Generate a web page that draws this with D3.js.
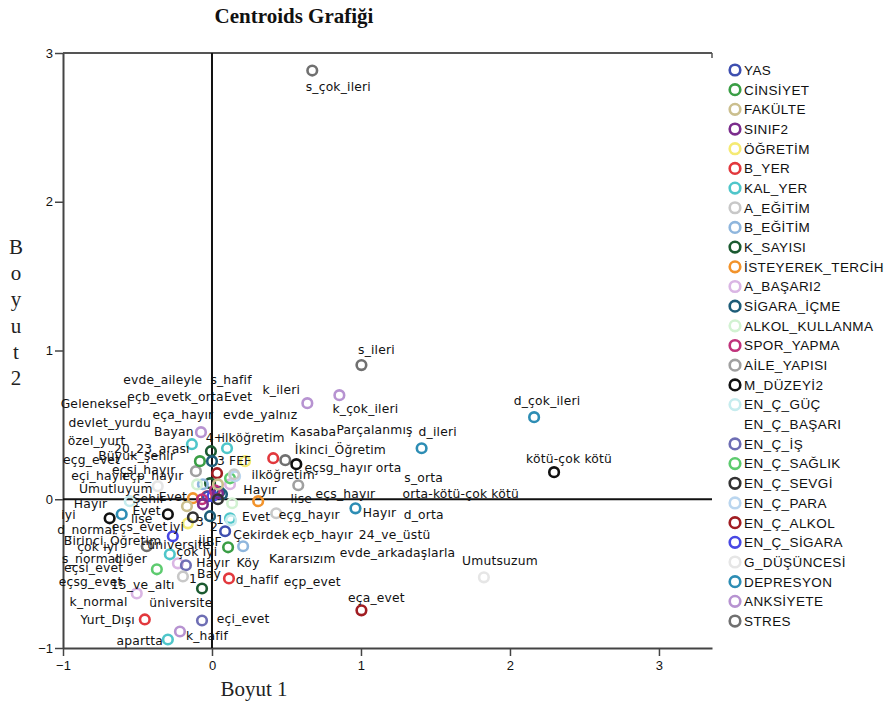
<!DOCTYPE html>
<html><head><meta charset="utf-8">
<script src="https://cdn.jsdelivr.net/npm/d3@7"></script>
<style>
body{margin:0;background:#fff;}
svg{display:block;}
</style></head>
<body><svg id="chart" width="891" height="704"></svg>
<script>
// ---- data ----
const chartTitle = "Centroids Grafiği";
const xTitle = "Boyut 1";
const yTitle = "Boyut 2";
const xTicks = [-1, 0, 1, 2, 3];
const yTicks = [-1, 0, 1, 2, 3];
const variables = ["YAS","CİNSİYET","FAKÜLTE","SINIF2","ÖĞRETİM","B_YER","KAL_YER","A_EĞİTİM","B_EĞİTİM","K_SAYISI","İSTEYEREK_TERCİH","A_BAŞARI2","SİGARA_İÇME","ALKOL_KULLANMA","SPOR_YAPMA","AİLE_YAPISI","M_DÜZEYİ2","EN_Ç_GÜÇ","EN_Ç_BAŞARI","EN_Ç_İŞ","EN_Ç_SAĞLIK","EN_Ç_SEVGİ","EN_Ç_PARA","EN_Ç_ALKOL","EN_Ç_SİGARA","G_DÜŞÜNCESİ","DEPRESYON","ANKSİYETE","STRES"];
// centroid coordinates [variable, Boyut1, Boyut2]
const centroids = [
 ["STRES",0.673,2.882],["STRES",1.003,0.902],["STRES",-0.438,-0.316],["STRES",0.492,0.263],
 ["AİLE_YAPISI",-0.108,0.189],["AİLE_YAPISI",0.579,0.094],
 ["DEPRESYON",2.162,0.552],["DEPRESYON",1.407,0.343],["DEPRESYON",0.963,-0.061],["DEPRESYON",-0.606,-0.101],
 ["M_DÜZEYİ2",2.296,0.182],["M_DÜZEYİ2",0.566,0.236],["M_DÜZEYİ2",-0.687,-0.128],["M_DÜZEYİ2",-0.296,-0.101],
 ["G_DÜŞÜNCESİ",1.825,-0.525],["G_DÜŞÜNCESİ",-0.364,0.088],
 ["EN_Ç_ALKOL",1.003,-0.747],["EN_Ç_ALKOL",0.034,0.175],
 ["B_YER",0.411,0.276],["B_YER",0.114,-0.532],["B_YER",-0.451,-0.808],["B_YER",-0.034,0.02],
 ["ANKSİYETE",0.64,0.646],["ANKSİYETE",0.855,0.70],["ANKSİYETE",-0.074,0.451],["ANKSİYETE",-0.215,-0.889],
 ["A_BAŞARI2",-0.505,-0.633],["A_BAŞARI2",-0.229,-0.431],["A_BAŞARI2",0.121,0.101],
 ["KAL_YER",-0.135,0.37],["KAL_YER",0.101,0.343],["KAL_YER",-0.296,-0.943],["KAL_YER",-0.283,-0.37],["KAL_YER",0.121,-0.128],
 ["K_SAYISI",-0.007,0.323],["K_SAYISI",-0.067,-0.6],["K_SAYISI",-0.013,0.108],
 ["CİNSİYET",-0.081,0.256],["CİNSİYET",0.108,-0.323],
 ["SİGARA_İÇME",0,0.256],["SİGARA_İÇME",0.067,0.034],["SİGARA_İÇME",-0.013,-0.114],["SİGARA_İÇME",0.05,0.05],
 ["ÖĞRETİM",0.222,0.256],["ÖĞRETİM",-0.162,-0.162],
 ["İSTEYEREK_TERCİH",0.31,-0.013],["İSTEYEREK_TERCİH",-0.128,0.007],
 ["EN_Ç_SAĞLIK",-0.37,-0.471],["EN_Ç_SAĞLIK",0.121,0.141],
 ["EN_Ç_İŞ",-0.067,-0.815],["EN_Ç_İŞ",-0.175,-0.444],
 ["YAS",0.088,-0.215],["YAS",-0.027,0.02],
 ["EN_Ç_SİGARA",-0.263,-0.249],["EN_Ç_SİGARA",0.003,0.02],
 ["B_EĞİTİM",0.209,-0.316],["B_EĞİTİM",-0.061,0.101],
 ["EN_Ç_PARA",0.155,0.155],
 ["A_EĞİTİM",0.431,-0.094],["A_EĞİTİM",-0.195,-0.519],["A_EĞİTİM",0.148,0.168],
 ["EN_Ç_GÜÇ",-0.552,-0.013],["EN_Ç_GÜÇ",0.128,-0.142],
 ["SPOR_YAPMA",-0.067,0],["SPOR_YAPMA",0.02,0.06],
 ["SINIF2",-0.061,-0.034],["SINIF2",0.04,0.04],
 ["FAKÜLTE",-0.168,-0.047],["FAKÜLTE",0.04,0.1],
 ["ALKOL_KULLANMA",0.135,-0.027],["ALKOL_KULLANMA",-0.1,0.1],
 ["EN_Ç_SEVGİ",-0.128,-0.121],["EN_Ç_SEVGİ",0.04,0.0]
];
// category labels [text, Boyut1, Boyut2]
const labels = [
 ["s_çok_ileri",0.848,2.774],["s_ileri",1.104,1.003],["d_çok_ileri",2.249,0.660],["kötü-çok kötü",2.397,0.276],
 ["d_ileri",1.515,0.451],["k_çok_ileri",1.030,0.606],["k_ileri",0.465,0.734],["Parçalanmış",1.091,0.465],
 ["Kasaba",0.680,0.451],["İkinci_Öğretim",0.862,0.330],["eçsg_hayır",0.848,0.209],["orta",1.185,0.209],
 ["ilköğretim",0.478,0.168],["s_orta",1.421,0.148],["orta-kötü-çok kötü",1.670,0.034],["eçs_hayır",0.896,0.034],
 ["lise",0.599,0.007],["Hayır",0.323,0.067],["d_orta",1.421,-0.101],["Hayır",1.125,-0.088],
 ["eçg_hayır",0.653,-0.101],["Evet",0.296,-0.114],["Çekirdek",0.330,-0.236],["eçb_hayır",0.741,-0.236],
 ["24_ve_üstü",1.226,-0.236],["evde_arkadaşlarla",1.246,-0.357],["Kararsızım",0.606,-0.397],["Umutsuzum",1.933,-0.411],
 ["eçp_evet",0.673,-0.552],["eça_evet",1.104,-0.660],["d_hafif",0.303,-0.539],["Hayır",0.007,-0.424],
 ["Köy",0.242,-0.424],["Bay",-0.020,-0.498],["1",-0.128,-0.532],["eçi_evet",0.209,-0.801],
 ["k_hafif",-0.034,-0.916],["apartta",-0.485,-0.949],["Yurt_Dışı",-0.700,-0.808],["üniversite",-0.209,-0.694],
 ["k_normal",-0.761,-0.687],["15_ve_altı",-0.465,-0.572],["eçsg_evet",-0.815,-0.552],["eçsi_evet",-0.795,-0.458],
 ["s_normal",-0.815,-0.397],["diğer",-0.545,-0.397],["çok iyi",-0.101,-0.350],["çok iyi",-0.768,-0.316],
 ["üniversite",-0.222,-0.303],["İİBF",-0.013,-0.283],["Birinci_Öğretim",-0.667,-0.276],["d_normal",-0.842,-0.202],
 ["eçs_evet",-0.485,-0.182],["iyi",-0.236,-0.182],["iyi",-0.963,-0.101],["lise",-0.471,-0.128],
 ["Evet",-0.438,-0.074],["3",-0.081,-0.148],["2",0.013,-0.182],["1",0.054,-0.135],
 ["Hayır",-0.815,-0.027],["Şehir",-0.424,0.007],["Evet",-0.263,0.020],["Umutluyum",-0.646,0.074],
 ["eçi_hayır",-0.754,0.155],["eçp_hayır",-0.397,0.155],["eçsi_hayır",-0.458,0.202],["eçg_evet",-0.808,0.263],
 ["Büyük_şehir",-0.505,0.296],["20_23_arası",-0.404,0.343],["3",0.061,0.256],["FEF",0.189,0.256],
 ["özel_yurt",-0.774,0.391],["4+",0.020,0.411],["ilköğretim",0.276,0.411],["Bayan",-0.256,0.451],
 ["devlet_yurdu",-0.687,0.512],["eça_hayır",-0.195,0.566],["evde_yalnız",0.323,0.566],["Geleneksel",-0.781,0.640],
 ["eçb_evet",-0.377,0.687],["k_orta",-0.054,0.687],["Evet",0.175,0.687],["evde_aileyle",-0.330,0.801],
 ["s_hafif",0.128,0.801]
];
// ---- styles ----
const palette = ["#3e4fb0","#3a9e45","#cbbf8e","#7b2c8c","#f5ea73","#e2383d","#4fc6ca","#c8c8c8","#8fb6dd","#1b5a30","#f2932b","#dab6e4","#1d5c78","#d2f2d2","#c0327b","#a0a0a0","#111111","#c6ecee","#ffffff","#6e6eb4","#5dcb6f","#333333","#bad6ef","#a11d22","#4848e4","#e6e6e6","#2d8db4","#b793d1","#707070"];
const color = d3.scaleOrdinal().domain(variables).range(palette);

const svg = d3.select("#chart");
const L = 63, R = 712, T = 53, B = 648;
const x = d3.scaleLinear().domain([-1, 3.356]).range([L, R]);
const y = d3.scaleLinear().domain([-1, 3]).range([B, T]);

// title
svg.append("text").attr("x", 294).attr("y", 23).attr("text-anchor","middle")
  .style("font-family","'Liberation Serif','DejaVu Serif',serif").style("font-weight","bold")
  .style("font-size","21px").attr("fill","#111").text(chartTitle);

// frame top
svg.append("line").attr("x1",L).attr("x2",R).attr("y1",T).attr("y2",T).attr("stroke","#555").attr("stroke-width",2);
svg.append("line").attr("x1",R).attr("x2",R).attr("y1",T).attr("y2",T+5).attr("stroke","#555").attr("stroke-width",1.5);

// axes
const yAxis = svg.append("g").attr("transform",`translate(${L},0)`)
  .call(d3.axisLeft(y).tickValues(yTicks).tickSize(8).tickSizeOuter(0).tickFormat(d3.format("d")));
const xAxis = svg.append("g").attr("transform",`translate(0,${B})`)
  .call(d3.axisBottom(x).tickValues(xTicks).tickSize(8).tickSizeOuter(0).tickFormat(d3.format("d")));
[xAxis,yAxis].forEach(g=>{
  g.select(".domain").attr("stroke","#444").attr("stroke-width",2);
  g.selectAll(".tick line").attr("stroke","#444").attr("stroke-width",1.5);
  g.selectAll(".tick text").attr("fill","#111")
    .style("font-family","'Liberation Sans',Arial,sans-serif").style("font-size","13px");
});
yAxis.selectAll(".tick text").attr("x",-10);
xAxis.selectAll(".tick text").attr("y",13);

// zero lines
svg.append("line").attr("x1",x(0)).attr("x2",x(0)).attr("y1",T).attr("y2",B).attr("stroke","#111").attr("stroke-width",2);
svg.append("line").attr("x1",L).attr("x2",R).attr("y1",y(0)).attr("y2",y(0)).attr("stroke","#111").attr("stroke-width",2);

// centroids
svg.append("g").selectAll("circle").data(centroids).join("circle")
  .attr("cx",d=>x(d[1])).attr("cy",d=>y(d[2])).attr("r",4.8)
  .attr("fill","none").attr("stroke",d=>color(d[0])).attr("stroke-width",2.6);

// labels
svg.append("g").selectAll("text").data(labels).join("text")
  .attr("x",d=>x(d[1])).attr("y",d=>y(d[2])).attr("text-anchor","middle").attr("dy","0.35em")
  .style("font-family","'DejaVu Sans',Verdana,sans-serif").style("font-size","12.3px").style("letter-spacing","0.2px").attr("fill","#111")
  .text(d=>d[0]);

// axis titles
svg.append("text").attr("x",254).attr("y",696).attr("text-anchor","middle")
  .style("font-family","'Liberation Serif','DejaVu Serif',serif").style("font-size","21px").attr("fill","#222").text(xTitle);
const yt = svg.append("text").style("font-family","'Liberation Serif','DejaVu Serif',serif").style("font-size","21px").attr("fill","#222").attr("text-anchor","middle");
Array.from(yTitle.replace(" ","")).forEach((ch,i)=>{
  yt.append("tspan").attr("x",16).attr("y",254 + i*26.2).text(ch);
});

// legend
const lg = svg.append("g").attr("transform","translate(735,70)");
const items = lg.selectAll("g").data(variables).join("g").attr("transform",(d,i)=>`translate(0,${i*19.68})`);
items.append("circle").attr("r",5.3).attr("fill","none").attr("stroke",d=>color(d)).attr("stroke-width",2.6);
items.append("text").attr("x",9).attr("dy","0.36em")
  .style("font-family","'Liberation Sans',Arial,sans-serif").style("font-size","13.5px").style("letter-spacing","0.4px").attr("fill","#111").text(d=>d);
</script>
</body></html>
